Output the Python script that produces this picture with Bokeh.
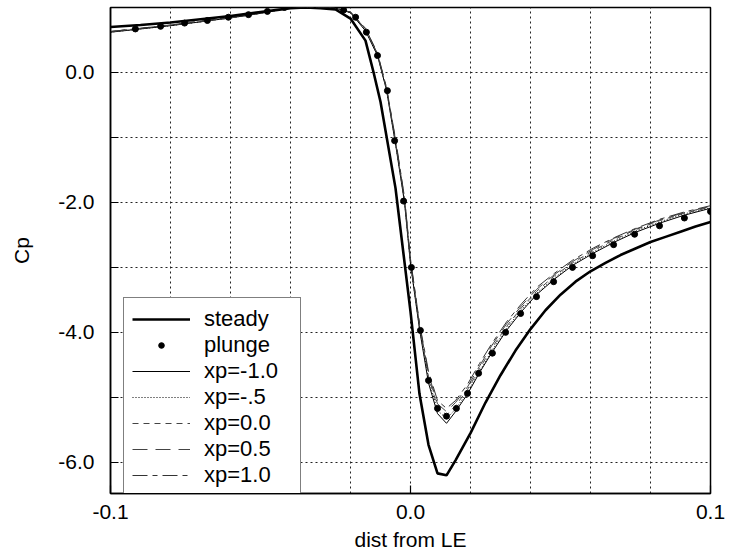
from bokeh.plotting import figure
from bokeh.models import Range1d, FixedTicker, Legend, LegendItem
from bokeh.embed import file_html
from bokeh.resources import INLINE

# ---------------- data ----------------
steady_x = [-0.1, -0.09, -0.08, -0.07, -0.06, -0.05, -0.045, -0.04, -0.035, -0.03,
            -0.025, -0.02, -0.015, -0.0123, -0.01, -0.005, 0.0, 0.003, 0.006, 0.009,
            0.012, 0.015, 0.02, 0.025, 0.03, 0.035, 0.04, 0.045, 0.05, 0.055, 0.06,
            0.065, 0.07, 0.075, 0.08, 0.085, 0.09, 0.095, 0.1]
steady_y = [0.70, 0.73, 0.77, 0.82, 0.87, 0.93, 0.96, 0.99, 1.0, 0.99,
            0.97, 0.83, 0.49, 0.0, -0.45, -1.78, -3.68, -4.95, -5.73, -6.17,
            -6.20, -5.97, -5.55, -5.08, -4.66, -4.28, -3.95, -3.66, -3.42, -3.22, -3.06,
            -2.93, -2.81, -2.71, -2.61, -2.53, -2.45, -2.37, -2.30]

plunge_x = [-0.0917, -0.0833, -0.0753, -0.0677, -0.0607, -0.054, -0.0477, -0.042,
            -0.0223, -0.0183, -0.0147, -0.011, -0.0077, -0.0053, -0.0023, 0.0003,
            0.0033, 0.006, 0.009, 0.012, 0.0153, 0.019, 0.0227, 0.0273, 0.0317,
            0.0367, 0.042, 0.0477, 0.054, 0.0607, 0.0677, 0.0747, 0.083, 0.0913, 0.1]
plunge_y = [0.67, 0.71, 0.76, 0.80, 0.85, 0.89, 0.94, 1.0,
            0.96, 0.85, 0.62, 0.26, -0.28, -1.05, -1.98, -3.0,
            -3.97, -4.74, -5.17, -5.29, -5.17, -4.94, -4.63, -4.32, -4.0,
            -3.71, -3.45, -3.22, -3.0, -2.82, -2.65, -2.49, -2.36, -2.24, -2.14]

xp_x = [-0.1, -0.09, -0.08, -0.07, -0.06, -0.05, -0.042, -0.035, -0.03, -0.025,
        -0.02, -0.015, -0.011, -0.008, -0.005, -0.002, 0.0, 0.003, 0.006, 0.009,
        0.012, 0.015, 0.019, 0.023, 0.027, 0.032, 0.037, 0.042, 0.048, 0.054,
        0.061, 0.068, 0.075, 0.083, 0.091, 0.1]
xp_m10 = [0.62, 0.67, 0.72, 0.78, 0.84, 0.91, 0.98, 1.0, 1.0, 0.99,
          0.92, 0.64, 0.26, -0.27, -1.10, -2.00, -2.95, -3.95, -4.78, -5.25,
          -5.40, -5.22, -4.95, -4.62, -4.32, -3.97, -3.68, -3.42, -3.18, -2.97,
          -2.78, -2.61, -2.46, -2.32, -2.20, -2.09]
xp_m05 = [0.62, 0.67, 0.72, 0.78, 0.84, 0.91, 0.98, 1.0, 1.0, 0.99,
          0.92, 0.65, 0.27, -0.26, -1.08, -1.98, -2.93, -3.93, -4.72, -5.20,
          -5.33, -5.18, -4.92, -4.60, -4.29, -3.94, -3.65, -3.40, -3.16, -2.95,
          -2.76, -2.59, -2.44, -2.30, -2.18, -2.08]
xp_00 = [0.63, 0.68, 0.73, 0.78, 0.84, 0.91, 0.98, 1.0, 1.0, 0.99,
         0.93, 0.66, 0.28, -0.25, -1.06, -1.96, -2.91, -3.90, -4.68, -5.15,
         -5.27, -5.13, -4.88, -4.56, -4.25, -3.91, -3.62, -3.37, -3.13, -2.93,
         -2.74, -2.57, -2.42, -2.28, -2.17, -2.07]
xp_05 = [0.63, 0.68, 0.73, 0.79, 0.85, 0.92, 0.98, 1.0, 1.0, 0.99,
         0.93, 0.67, 0.29, -0.24, -1.04, -1.94, -2.89, -3.88, -4.64, -5.10,
         -5.22, -5.08, -4.84, -4.52, -4.21, -3.87, -3.59, -3.34, -3.11, -2.91,
         -2.72, -2.55, -2.41, -2.27, -2.16, -2.06]
xp_10 = [0.63, 0.68, 0.73, 0.79, 0.85, 0.92, 0.98, 1.0, 1.0, 0.99,
         0.93, 0.68, 0.30, -0.23, -1.02, -1.92, -2.87, -3.86, -4.60, -5.05,
         -5.17, -5.05, -4.80, -4.48, -4.18, -3.84, -3.56, -3.31, -3.09, -2.89,
         -2.70, -2.54, -2.40, -2.26, -2.15, -2.05]

x_ticks = [-0.1, 0.0, 0.1]
x_tick_labels = ["-0.1", "0.0", "0.1"]
x_grid = [-0.08, -0.06, -0.04, -0.02, 0.0, 0.02, 0.04, 0.06, 0.08]
y_ticks = [-6, -5, -4, -3, -2, -1, 0, 1]
y_tick_labels = ["-6.0", "", "-4.0", "", "-2.0", "", "0.0", ""]
y_grid = [-6, -5, -4, -3, -2, -1, 0]

legend_labels = ["steady", "plunge", "xp=-1.0", "xp=-.5", "xp=0.0", "xp=0.5", "xp=1.0"]

FONT = "Liberation Sans"

p = figure(width=730, height=556, output_backend="svg", toolbar_location=None,
           x_range=Range1d(-0.1, 0.1), y_range=Range1d(-6.48, 1.0),
           min_border_left=110, min_border_right=20, min_border_top=7, min_border_bottom=63,
           x_axis_label="dist from LE", y_axis_label="Cp")
p.background_fill_color = "white"
p.border_fill_color = "white"
p.outline_line_color = "black"
p.outline_line_width = 1.5

# axes
p.xaxis.ticker = FixedTicker(ticks=x_ticks)
p.xaxis.major_label_overrides = {float(t): l for t, l in zip(x_ticks, x_tick_labels)}
p.yaxis.ticker = FixedTicker(ticks=y_ticks)
p.yaxis.major_label_overrides = {float(t): l for t, l in zip(y_ticks, y_tick_labels)}
for ax in (p.xaxis, p.yaxis):
    ax.major_tick_in = 8
    ax.major_tick_out = 0
    ax.minor_tick_in = 0
    ax.minor_tick_out = 0
    ax.axis_line_color = "black"
    ax.axis_line_width = 1.5
    ax.major_tick_line_color = "black"
    ax.major_tick_line_width = 1.2
    ax.major_label_text_font = FONT
    ax.major_label_text_font_size = "21px"
    ax.major_label_text_color = "black"
    ax.axis_label_text_font = FONT
    ax.axis_label_text_font_size = "21px"
    ax.axis_label_text_font_style = "normal"
    ax.axis_label_text_color = "black"
p.xaxis.major_label_standoff = 11
p.xaxis.axis_label_standoff = 6
p.yaxis.major_label_standoff = 16
p.yaxis.axis_label_standoff = 22

# grids
p.xgrid.ticker = FixedTicker(ticks=x_grid)
p.ygrid.ticker = FixedTicker(ticks=y_grid)
for g in (p.xgrid, p.ygrid):
    g.grid_line_color = "#222222"
    g.grid_line_dash = "2 3"
    g.grid_line_width = 1

# curves
r_m10 = p.line(xp_x, xp_m10, line_color="black", line_width=1)
r_m05 = p.line(xp_x, xp_m05, line_color="black", line_width=1, line_dash="1 2")
r_00 = p.line(xp_x, xp_00, line_color="#444444", line_width=1, line_dash="6 5")
r_05 = p.line(xp_x, xp_05, line_color="#444444", line_width=1, line_dash="15 8")
r_10 = p.line(xp_x, xp_10, line_color="#333333", line_width=1, line_dash="15 5 5 5")
r_st = p.line(steady_x, steady_y, line_color="black", line_width=2.6)
r_pl = p.scatter(plunge_x, plunge_y, size=6, color="black")

renderers = [r_st, r_pl, r_m10, r_m05, r_00, r_05, r_10]
legend = Legend(items=[LegendItem(label=l, renderers=[r]) for l, r in zip(legend_labels, renderers)],
                location=(13, -4))
legend.label_text_font = FONT
legend.label_text_font_size = "22px"
legend.label_text_color = "black"
legend.glyph_width = 58
legend.glyph_height = 14
legend.label_height = 26
legend.label_width = 88
legend.label_standoff = 14
legend.padding = 8
legend.spacing = 0
legend.margin = 0
legend.border_line_color = "black"
legend.border_line_width = 1
legend.background_fill_color = "white"
legend.background_fill_alpha = 1.0
p.add_layout(legend, "center")

open("out.html", "w").write(file_html(p, INLINE))
